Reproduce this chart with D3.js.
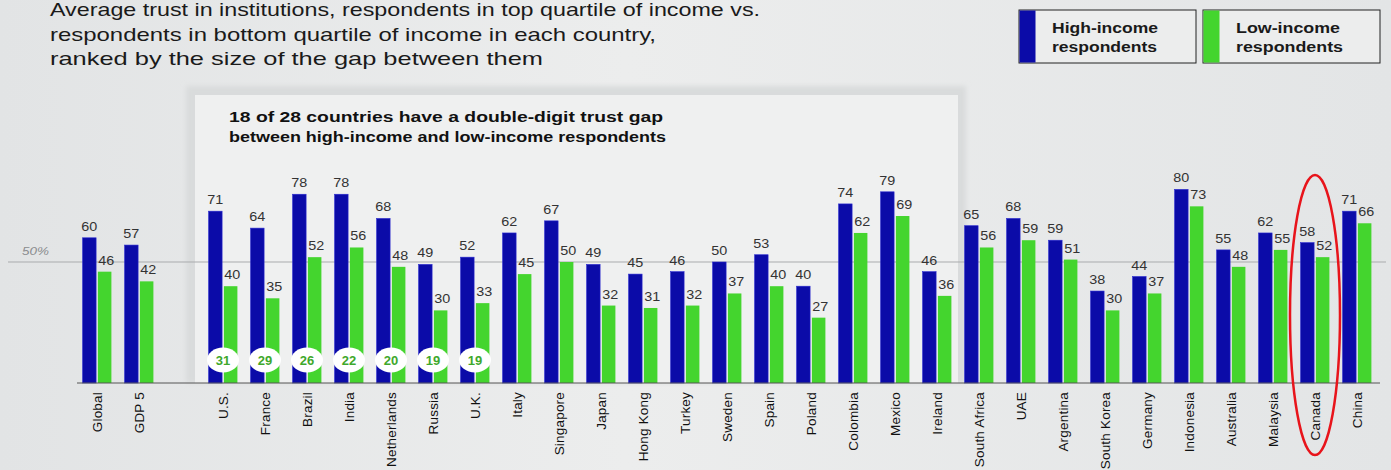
<!DOCTYPE html>
<html>
<head>
<meta charset="utf-8">
<script src="https://cdn.jsdelivr.net/npm/d3@7"></script>
<style>
  html, body { margin: 0; padding: 0; background: #e8e9ea; }
  svg { display: block; font-family: "Liberation Sans", Arial, sans-serif; }
</style>
</head>
<body>
<svg id="chart"></svg>
<script>
(() => {
  const width = 1391, height = 470;

  // data
  const categories = ["Global", "GDP 5", "", "U.S.", "France", "Brazil", "India", "Netherlands", "Russia", "U.K.",
    "Italy", "Singapore", "Japan", "Hong Kong", "Turkey", "Sweden", "Spain", "Poland", "Colombia", "Mexico",
    "Ireland", "South Africa", "UAE", "Argentina", "South Korea", "Germany", "Indonesia", "Australia",
    "Malaysia", "Canada", "China"];
  const highIncome = [60, 57, null, 71, 64, 78, 78, 68, 49, 52, 62, 67, 49, 45, 46, 50, 53, 40, 74, 79,
    46, 65, 68, 59, 38, 44, 80, 55, 62, 58, 71];
  const lowIncome = [46, 42, null, 40, 35, 52, 56, 48, 30, 33, 45, 50, 32, 31, 32, 37, 40, 27, 62, 69,
    36, 56, 59, 51, 30, 37, 73, 48, 55, 52, 66];
  const gapCountries = ["U.S.", "France", "Brazil", "India", "Netherlands", "Russia", "U.K."];
  const gapValues = [31, 29, 26, 22, 20, 19, 19];
  const titleLines = [
    "Average trust in institutions, respondents in top quartile of income vs.",
    "respondents in bottom quartile of income in each country,",
    "ranked by the size of the gap between them"
  ];
  const titleWidths = [710, 606, 493];
  const calloutLines = [
    "18 of 28 countries have a double-digit trust gap",
    "between high-income and low-income respondents"
  ];
  const calloutWidths = [434, 437];
  const legendLabels = [["High-income", "respondents"], ["Low-income", "respondents"]];
  const legendWidths = [[106, 105], [104, 107]];
  const highlight = "Canada";

  const blue = "#0b0ba8", green = "#44d52e";

  const svg = d3.select("#chart").attr("width", width).attr("height", height);

  // background
  const defs = svg.append("defs");
  const bg = defs.append("linearGradient").attr("id", "bg").attr("x1", 0).attr("y1", 0).attr("x2", 1).attr("y2", 0);
  bg.append("stop").attr("offset", "0%").attr("stop-color", "#e2e4e5");
  bg.append("stop").attr("offset", "45%").attr("stop-color", "#eceded");
  bg.append("stop").attr("offset", "100%").attr("stop-color", "#e3e5e6");
  svg.append("rect").attr("width", width).attr("height", height).attr("fill", "url(#bg)");

  const soft = defs.append("filter").attr("id", "soft").attr("x", "-5%").attr("y", "-10%")
    .attr("width", "110%").attr("height", "120%");
  soft.append("feGaussianBlur").attr("stdDeviation", 2.5);

  const x = d3.scaleBand().domain(d3.range(categories.length)).range([76, 76 + 42 * categories.length]).padding(0);
  const y = d3.scaleLinear().domain([0, 50]).range([383, 262]);
  const baseY = y(0);
  const barW = 13.5, inner = 0.9;

  // callout box
  svg.append("rect")
    .attr("x", 186).attr("y", 86).attr("width", 780).attr("height", baseY - 86)
    .attr("fill", "#d9dbdc").attr("filter", "url(#soft)");
  svg.append("rect")
    .attr("x", 195).attr("y", 95).attr("width", 763).attr("height", baseY - 95)
    .attr("fill", "#eff0f0");

  svg.append("g").selectAll("text").data(calloutLines).join("text")
    .attr("x", 229).attr("y", (d, i) => 122 + i * 20)
    .attr("font-size", 14.5).attr("font-weight", "bold").attr("fill", "#111")
    .attr("textLength", (d, i) => calloutWidths[i]).attr("lengthAdjust", "spacingAndGlyphs")
    .text(d => d);

  // 50% reference line
  svg.append("line").attr("x1", 8).attr("x2", 1386).attr("y1", y(50)).attr("y2", y(50))
    .attr("stroke", "#a9abad").attr("stroke-width", 1);
  svg.append("text").attr("x", 22).attr("y", y(50) - 7)
    .attr("font-size", 11).attr("font-style", "italic").attr("fill", "#8a8c8e")
    .attr("textLength", 27).attr("lengthAdjust", "spacingAndGlyphs").text("50%");

  // title
  svg.append("g").selectAll("text").data(titleLines).join("text")
    .attr("x", 50).attr("y", (d, i) => 16 + i * 24.5)
    .attr("font-size", 18.5).attr("fill", "#1a1a1a")
    .attr("textLength", (d, i) => titleWidths[i]).attr("lengthAdjust", "spacingAndGlyphs")
    .text(d => d);

  // legend
  const legendX = [1019, 1203];
  const legendColors = [blue, green];
  const lg = svg.append("g").selectAll("g").data(legendLabels).join("g")
    .attr("transform", (d, i) => `translate(${legendX[i]},10)`);
  lg.append("rect").attr("width", 177).attr("height", 53)
    .attr("fill", "#eceded").attr("stroke", "#222").attr("stroke-width", 1);
  lg.append("rect").attr("x", 0.5).attr("y", 0.5).attr("width", 16).attr("height", 52)
    .attr("fill", (d, i) => legendColors[i]);
  lg.each(function(d, gi) {
    d3.select(this).selectAll("text").data(d).join("text")
      .attr("x", 33).attr("y", (t, i) => 23 + i * 19)
      .attr("font-size", 14).attr("font-weight", "bold").attr("fill", "#1a1a1a")
      .attr("textLength", (t, i) => legendWidths[gi][i]).attr("lengthAdjust", "spacingAndGlyphs")
      .text(t => t);
  });

  // bars
  const idx = d3.range(categories.length).filter(i => highIncome[i] != null);
  const cx = i => x(i) + x.bandwidth() / 2;

  const groups = svg.append("g").selectAll("g").data(idx).join("g");

  groups.append("rect")
    .attr("x", i => cx(i) - inner - barW).attr("width", barW)
    .attr("y", i => y(highIncome[i])).attr("height", i => baseY - y(highIncome[i]))
    .attr("fill", blue).attr("stroke", "#2a2ad0").attr("stroke-width", 0.6);
  groups.append("rect")
    .attr("x", i => cx(i) + inner).attr("width", barW)
    .attr("y", i => y(lowIncome[i])).attr("height", i => baseY - y(lowIncome[i]))
    .attr("fill", green);

  groups.append("text")
    .attr("x", i => cx(i) - inner - barW / 2).attr("y", i => y(highIncome[i]) - 7)
    .attr("text-anchor", "middle").attr("font-size", 13).attr("fill", "#333")
    .attr("textLength", 16).attr("lengthAdjust", "spacingAndGlyphs")
    .text(i => highIncome[i]);
  groups.append("text")
    .attr("x", i => cx(i) + inner + barW / 2 + 1.5).attr("y", i => y(lowIncome[i]) - 7)
    .attr("text-anchor", "middle").attr("font-size", 13).attr("fill", "#333")
    .attr("textLength", 16).attr("lengthAdjust", "spacingAndGlyphs")
    .text(i => lowIncome[i]);

  // baseline
  svg.append("line").attr("x1", 77).attr("x2", 1380).attr("y1", baseY).attr("y2", baseY)
    .attr("stroke", "#555").attr("stroke-width", 1);

  // category labels
  svg.append("g").selectAll("text").data(idx).join("text")
    .attr("transform", i => `translate(${cx(i) + 5},392) rotate(-90)`)
    .attr("text-anchor", "end").attr("font-size", 13.5).attr("letter-spacing", 0.2).attr("fill", "#111")
    .text(i => categories[i]);

  // gap badges
  const badges = svg.append("g").selectAll("g").data(gapCountries).join("g")
    .attr("transform", d => `translate(${cx(categories.indexOf(d))},360)`);
  badges.append("ellipse").attr("rx", 16).attr("ry", 12.5).attr("fill", "#ffffff");
  badges.append("text").attr("y", 4.5).attr("text-anchor", "middle")
    .attr("font-size", 13).attr("font-weight", "bold").attr("fill", "#3fa82c")
    .text((d, i) => gapValues[i]);

  // highlight ring
  const hc = cx(categories.indexOf(highlight));
  svg.append("ellipse").attr("cx", hc).attr("cy", 315).attr("rx", 25).attr("ry", 140)
    .attr("fill", "none").attr("stroke", "#e8141b").attr("stroke-width", 2.5);
})();
</script>
</body>
</html>
